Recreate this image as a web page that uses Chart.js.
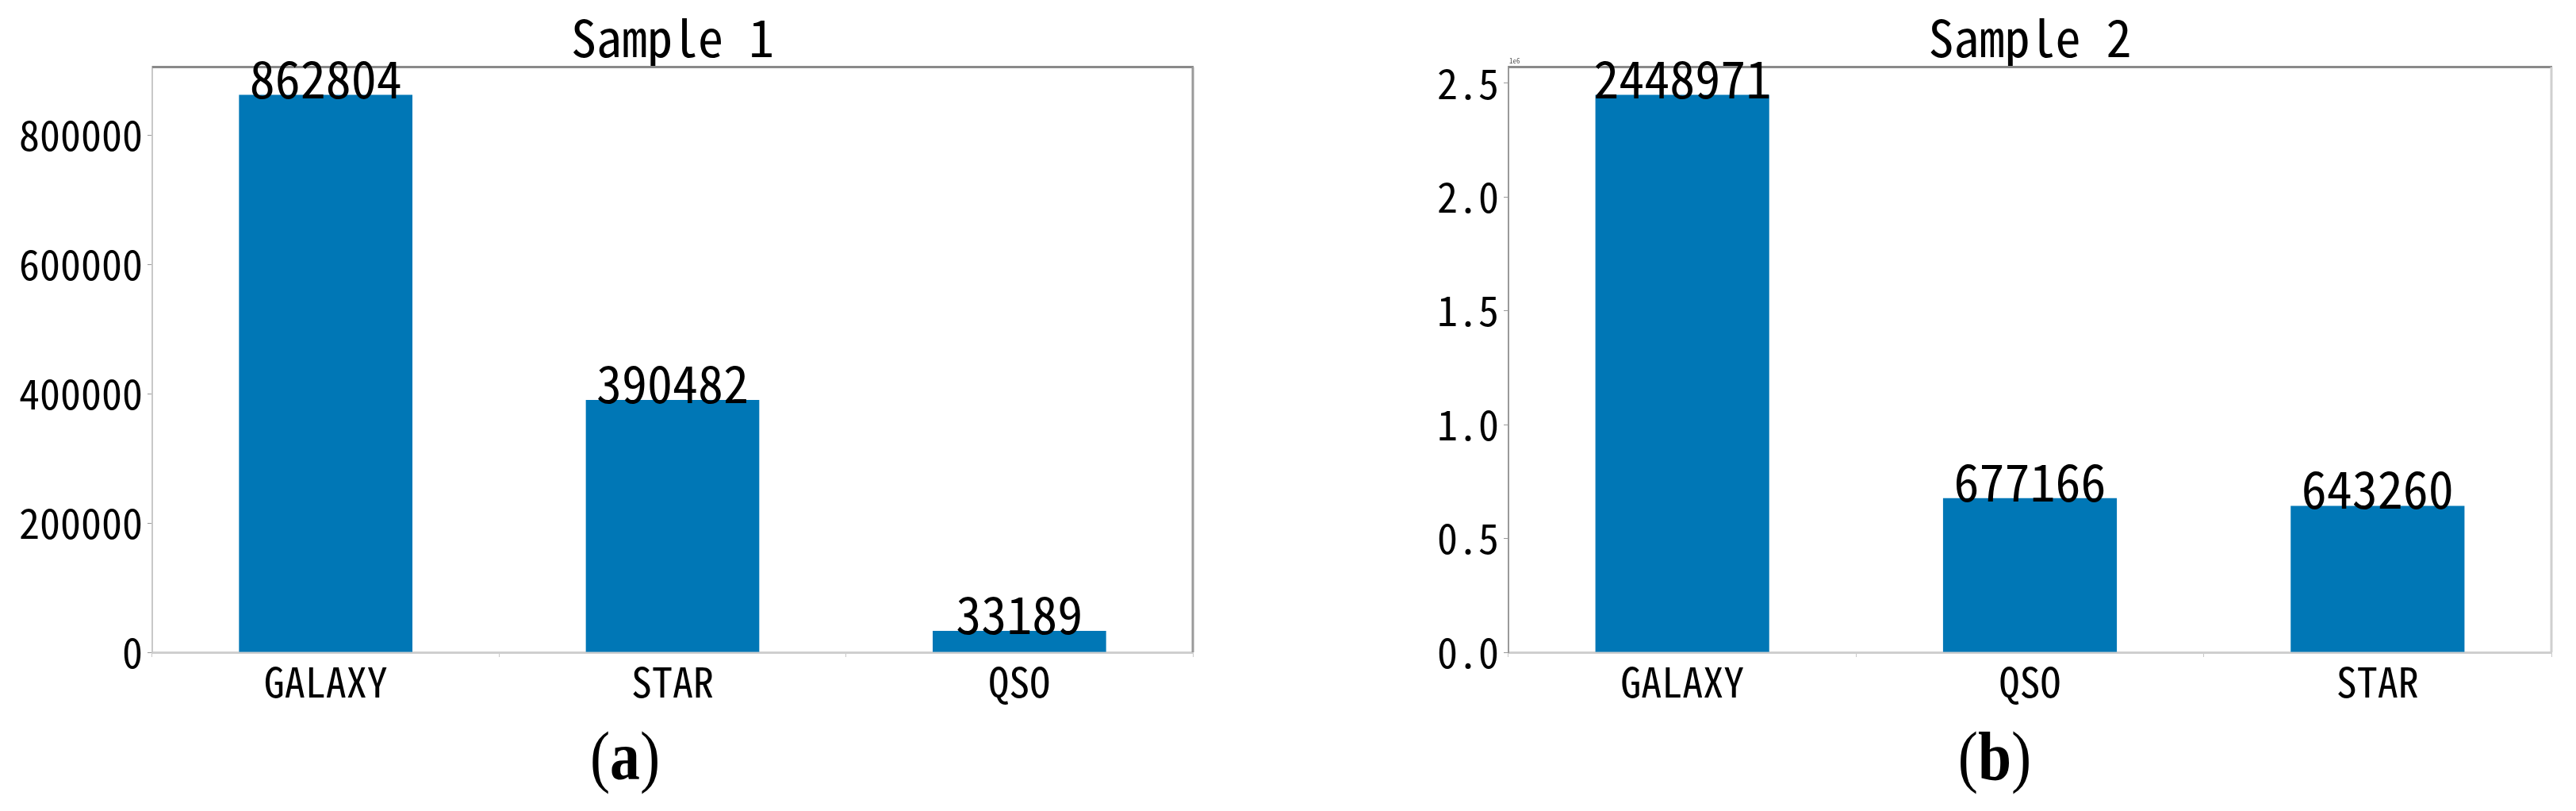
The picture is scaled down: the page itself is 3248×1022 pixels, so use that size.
<!DOCTYPE html>
<html>
<head>
<meta charset="utf-8">
<script src="https://cdn.jsdelivr.net/npm/chart.js@4"></script>
<style>
  body { margin: 0; background: #fff; width: 3248px; height: 1022px; position: relative; overflow: hidden; }
  canvas { position: absolute; top: 0; }
  .cap { position: absolute; top: 910px; width: 200px; text-align: center;
         font-family: "Liberation Serif", "Times New Roman", serif; font-size: 86px; line-height: 86px;
         transform: scaleX(0.88); }
</style>
</head>
<body>
<canvas id="c1" width="1700" height="900" style="left:0"></canvas>
<canvas id="c2" width="1548" height="900" style="left:1700px"></canvas>
<div class="cap" style="left:688px">(<b>a</b>)</div>
<div class="cap" style="left:2415px">(<b>b</b>)</div>
<script>
// sample 1
const cats1 = ["GALAXY", "STAR", "QSO"];
const counts1 = [862804, 390482, 33189];
const ticks1 = [0, 200000, 400000, 600000, 800000];

// sample 2 (y axis shown in units of 1e6)
const cats2 = ["GALAXY", "QSO", "STAR"];
const counts2 = [2448971, 677166, 643260];
const ticks2 = [0, 0.5, 1.0, 1.5, 2.0, 2.5];

const MONO = '"Noto Sans Mono CJK SC", "DejaVu Sans Mono", monospace';
const BLUE = "#0077b6";

// box round the plot area (top / right spines) + optional offset text
const frame = {
  id: "frame",
  beforeDatasetsDraw(chart, args, o) {
    const { ctx, chartArea: a } = chart;
    ctx.save();
    ctx.lineWidth = 3;
    ctx.strokeStyle = o.top;
    ctx.beginPath();
    ctx.moveTo(a.left, a.top);
    ctx.lineTo(a.right + 1, a.top);
    ctx.stroke();
    ctx.strokeStyle = o.right;
    ctx.beginPath();
    ctx.moveTo(a.right, a.top);
    ctx.lineTo(a.right, a.bottom);
    ctx.stroke();
    if (o.offset) {
      ctx.fillStyle = "#555";
      ctx.font = "9px " + MONO;
      ctx.textAlign = "left";
      ctx.textBaseline = "bottom";
      ctx.fillText(o.offset, a.left + 1, a.top - 3);
    }
    ctx.restore();
  }
};

// count written on top of each bar
const barLabels = {
  id: "barLabels",
  afterDatasetsDraw(chart) {
    const ctx = chart.ctx;
    const vals = chart.data.datasets[0].data;
    ctx.save();
    ctx.font = "64px " + MONO;
    ctx.fillStyle = "#000";
    ctx.textAlign = "center";
    ctx.textBaseline = "alphabetic";
    chart.getDatasetMeta(0).data.forEach((bar, i) => {
      ctx.fillText(String(vals[i]), bar.x, bar.y + 4);
    });
    ctx.restore();
  }
};

function makeChart(id, title, cats, counts, tickVals, unit, look) {
  return new Chart(document.getElementById(id), {
    type: "bar",
    data: {
      labels: cats,
      datasets: [{
        data: counts,
        backgroundColor: BLUE,
        categoryPercentage: 1.0,
        barPercentage: 0.5
      }]
    },
    options: {
      responsive: false,
      animation: false,
      layout: { padding: { left: 0, right: look.padRight, top: 0, bottom: 0 } },
      plugins: {
        legend: { display: false },
        tooltip: { enabled: false },
        title: {
          display: true,
          text: title,
          color: "#000",
          fullSize: false,
          font: { family: MONO, size: 64, weight: "normal", lineHeight: 1.1 },
          padding: { top: 12, bottom: 2 }
        },
        frame: { top: "#8a8a8a", right: look.rightSpine, offset: look.offset }
      },
      scales: {
        x: {
          offset: true,
          grid: { drawOnChartArea: false, tickLength: 6, color: "#c8c8c8" },
          border: { color: "#cfcfcf", width: 3 },
          ticks: { color: "#000", padding: 0, maxRotation: 0, font: { family: MONO, size: 52 } },
          afterFit(s) { s.height = 78; }
        },
        y: {
          min: 0,
          max: Math.max(...counts) * 1.05,
          grid: { drawOnChartArea: false, tickLength: 6, color: "#999" },
          border: { color: look.leftSpine, width: 2 },
          ticks: {
            color: "#000",
            padding: 6,
            font: { family: MONO, size: 52 },
            callback: v => unit === 1 ? String(v) : (v / unit).toFixed(1)
          },
          afterBuildTicks(s) { s.ticks = tickVals.map(t => ({ value: t * unit })); },
          afterFit(s) { s.width = look.axisWidth; }
        }
      }
    },
    plugins: [frame, barLabels]
  });
}

makeChart("c1", "Sample 1", cats1, counts1, ticks1, 1,
  { padRight: 196, axisWidth: 192, leftSpine: "#c8c8c8", rightSpine: "#9a9a9a", offset: "" });
makeChart("c2", "Sample 2", cats2, counts2, ticks2, 1e6,
  { padRight: 31, axisWidth: 202, leftSpine: "#9a9a9a", rightSpine: "#cfcfcf", offset: "1e6" });
</script>
</body>
</html>
